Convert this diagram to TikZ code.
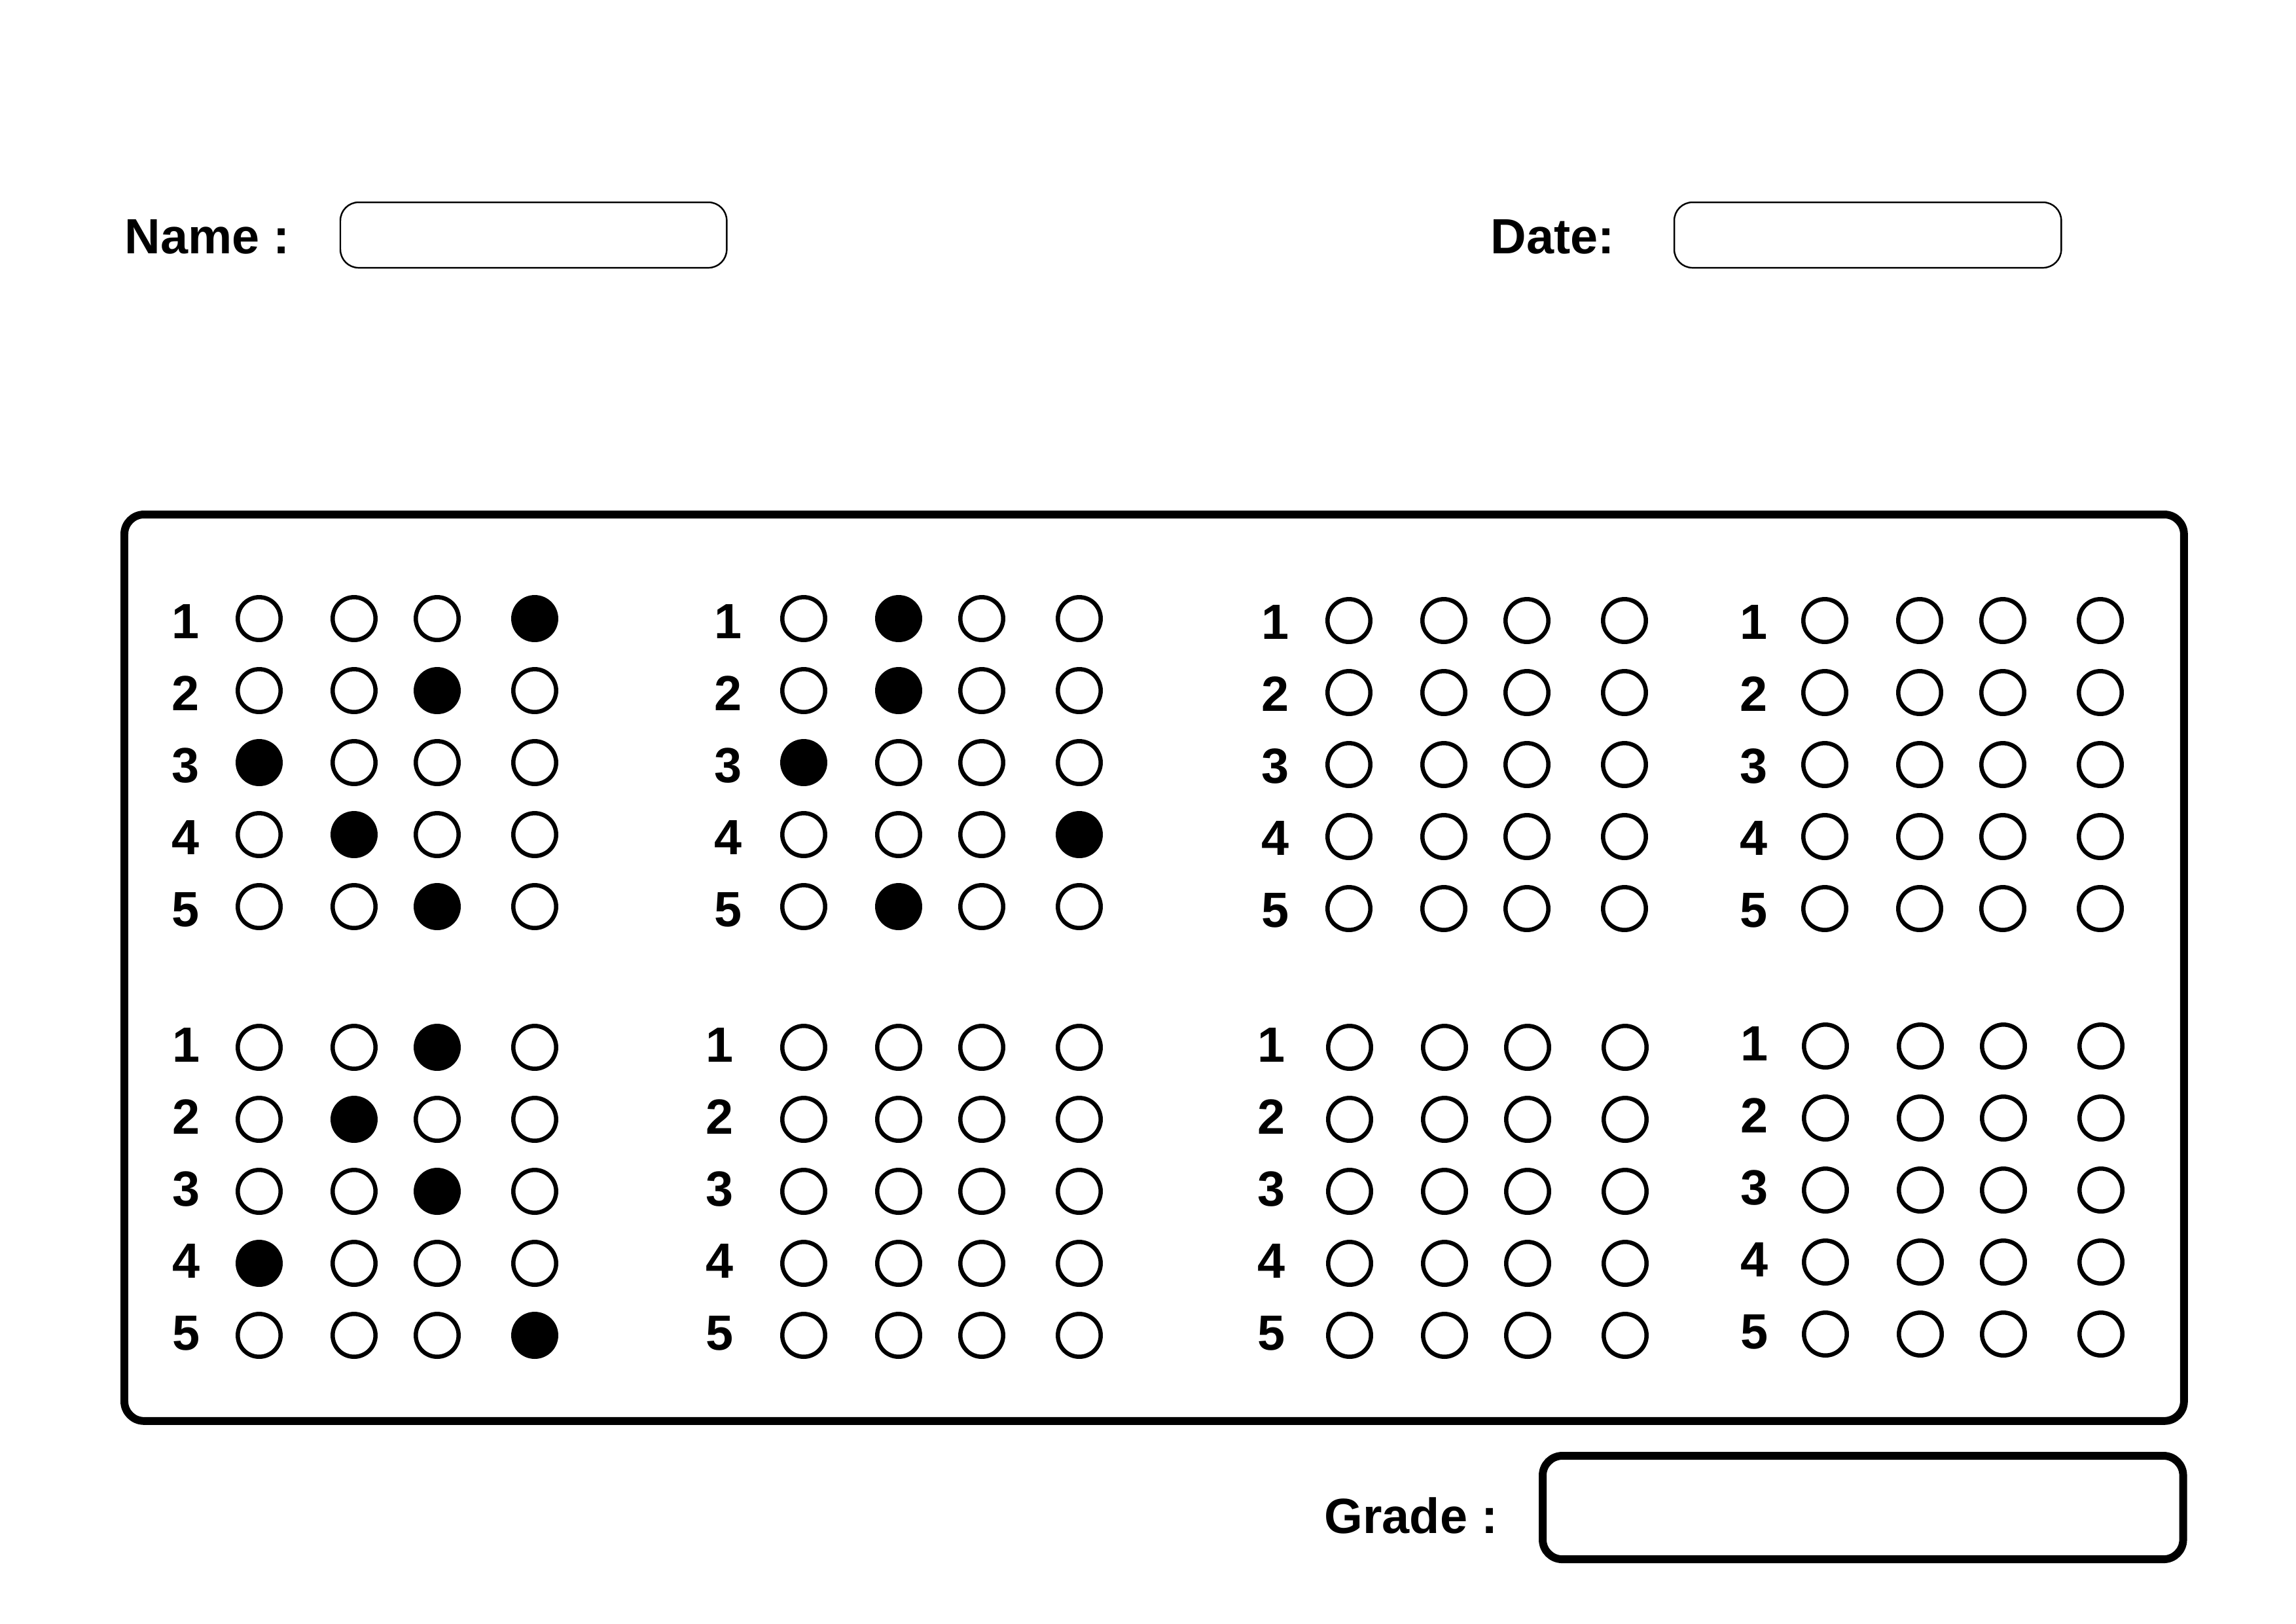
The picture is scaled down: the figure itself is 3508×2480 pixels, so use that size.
\documentclass[tikz,border=0pt]{standalone}
\usepackage{fontspec}
\setmainfont{Liberation Sans}

\begin{document}
\begin{tikzpicture}[x=0.01cm,y=-0.01cm]
    \tikzstyle{bubble}=[
        draw,
        shape=circle,
        line width=1.85pt,
        inner sep=0pt,
        outer sep=0pt,
        minimum size=0.654cm]
    \tikzstyle{headtext}=[inner sep=0pt, font=\fontsize{21.5pt}{26pt}\selectfont\bfseries]
    \tikzstyle{numtext}=[headtext, anchor=base]
    \tikzstyle{field}=[draw, anchor=north west, outer sep=0pt, rounded corners=0.28cm, line width=0.7pt]
    \tikzstyle{heavy}=[draw, anchor=north west, outer sep=0pt, rounded corners=0.3cm, line width=3.4pt]

    \useasboundingbox (0,0) rectangle (3508,2480);

    % header
    \node[headtext, anchor=base west] (name) at (190,387) {Name :};
    \node[field, minimum width=5.9cm, minimum height=1cm] (namebox) at (520,309) {};
    \node[headtext, anchor=base west] (date) at (2277,387) {Date:};
    \node[field, minimum width=5.91cm, minimum height=1cm] (datebox) at (2558,309) {};

    % answer sheet
    \node[heavy, minimum width=31.45cm, minimum height=13.84cm] (sheet) at (190,786) {};
    \foreach \blk/\bx/\by/\nx/\ny/\marks in {
        1/396/945/284/30/{4,3,1,2,3},
        2/1228/945/1113/30/{2,2,1,4,2},
        3/2061/948/1949/28/{0,0,0,0,0},
        4/2788/948/2679/28/{0,0,0,0,0},
        5/396/1600/285/22/{3,2,3,1,4},
        6/1228/1600/1100/22/{0,0,0,0,0},
        7/2062/1600/1943/22/{0,0,0,0,0},
        8/2789/1598/2680/22/{0,0,0,0,0}}
    {
        \foreach \m [count=\r] in \marks {
            \node[numtext] (q-\blk-\r) at (\nx,{\by+110*(\r-1)+\ny}) {\r};
            \foreach \c/\dx in {1/0,2/145,3/272,4/421} {
                \ifnum\c=\m \def\bfill{black}\else \def\bfill{white}\fi
                \node[bubble, fill=\bfill] (b-\blk-\r-\c) at ({\bx+\dx},{\by+110*(\r-1)}) {};
            }
        }
    }

    % grade
    \node[headtext, anchor=base west] (grade) at (2023,2342) {Grade :};
    \node[heavy, minimum width=9.78cm, minimum height=1.58cm] (gradebox) at (2357,2224) {};
\end{tikzpicture}
\end{document}
